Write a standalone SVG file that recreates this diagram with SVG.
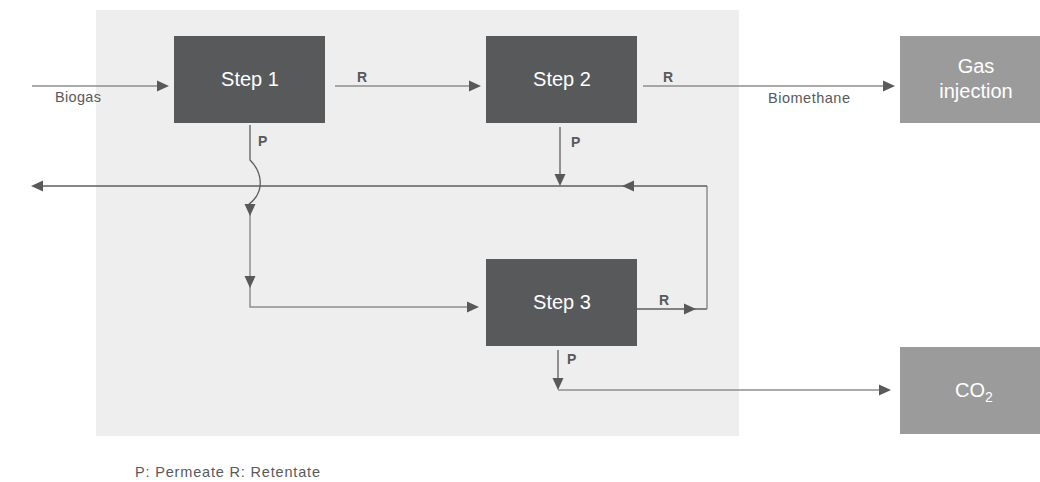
<svg xmlns="http://www.w3.org/2000/svg" xmlns:xlink="http://www.w3.org/1999/xlink" width="1040" height="482" viewBox="0 0 1040 482">
<style>
.step{fill:#58595b}
.out{fill:#9b9b9b}
.bt{font-family:"Liberation Sans",Arial,sans-serif;font-size:20px;fill:#ffffff;text-anchor:middle}
.lbl{font-family:"Liberation Sans",Arial,sans-serif;font-size:14.5px;fill:#58595b}
.pr{font-family:"Liberation Sans",Arial,sans-serif;font-size:14px;font-weight:bold;fill:#58595b}
.ln{fill:none;stroke:#8e8e8e;stroke-width:1.5}
.dk{fill:none;stroke:#5e5e5e;stroke-width:1.3}
.ah{fill:#58595b}
</style>
<defs>
<path id="tri" d="M0,0 L-12,-5.5 L-12,5.5 Z"/>
</defs>
<rect x="96" y="10" width="643" height="426" fill="#eeeeee"/>
<g id="step1"><rect class="step" x="174" y="36" width="151" height="87"/><text class="bt" x="250" y="86">Step 1</text></g>
<g id="step2"><rect class="step" x="486" y="36" width="151" height="87"/><text class="bt" x="562" y="86">Step 2</text></g>
<g id="step3"><rect class="step" x="486" y="259" width="151" height="87"/><text class="bt" x="562" y="309">Step 3</text></g>
<g id="gas"><rect class="out" x="900" y="36" width="152" height="87"/><text class="bt" x="976" y="73">Gas</text><text class="bt" x="976" y="98">injection</text></g>
<g id="co2"><rect class="out" x="900" y="347" width="152" height="87"/><text class="bt" x="974" y="397">CO<tspan font-size="14" dy="5">2</tspan></text></g>
<g id="connectors">
<path class="ln" d="M32,86 H160"/>
<path class="ln" d="M335,86 H472"/>
<path class="ln" d="M643,86 H886"/>
<path class="dk" d="M250,125 V160 C262,172 266,192 248,205"/>
<path class="ln" d="M250,213 V307 H470"/>
<path class="dk" d="M637,309 H707"/>
<path class="ln" d="M707,309 V186"/>
<path class="dk" d="M707,186 H40"/>
<path class="dk" d="M560,127 V176"/>
<path class="dk" d="M558,350 V382"/>
<path class="ln" d="M558,390 H882"/>
<use href="#tri" class="ah" transform="translate(169,86)"/>
<use href="#tri" class="ah" transform="translate(481,86)"/>
<use href="#tri" class="ah" transform="translate(895,86)"/>
<use href="#tri" class="ah" transform="translate(250,216) rotate(90)"/>
<use href="#tri" class="ah" transform="translate(250,288) rotate(90)"/>
<use href="#tri" class="ah" transform="translate(479,307)"/>
<use href="#tri" class="ah" transform="translate(696,309)"/>
<use href="#tri" class="ah" transform="translate(622,186) rotate(180)"/>
<use href="#tri" class="ah" transform="translate(31,186) rotate(180)"/>
<use href="#tri" class="ah" transform="translate(560,186) rotate(90)"/>
<use href="#tri" class="ah" transform="translate(558,390) rotate(90)"/>
<use href="#tri" class="ah" transform="translate(891,390)"/>
</g>
<g id="labels">
<text class="lbl" x="55" y="102" textLength="46">Biogas</text>
<text class="lbl" x="768" y="103" textLength="82">Biomethane</text>
<text class="pr" x="357" y="82">R</text>
<text class="pr" x="663" y="82">R</text>
<text class="pr" x="258" y="146">P</text>
<text class="pr" x="571" y="147">P</text>
<text class="pr" x="659" y="305">R</text>
<text class="pr" x="567" y="364">P</text>
<text class="lbl" x="135" y="477" textLength="185">P: Permeate R: Retentate</text>
</g>
</svg>
